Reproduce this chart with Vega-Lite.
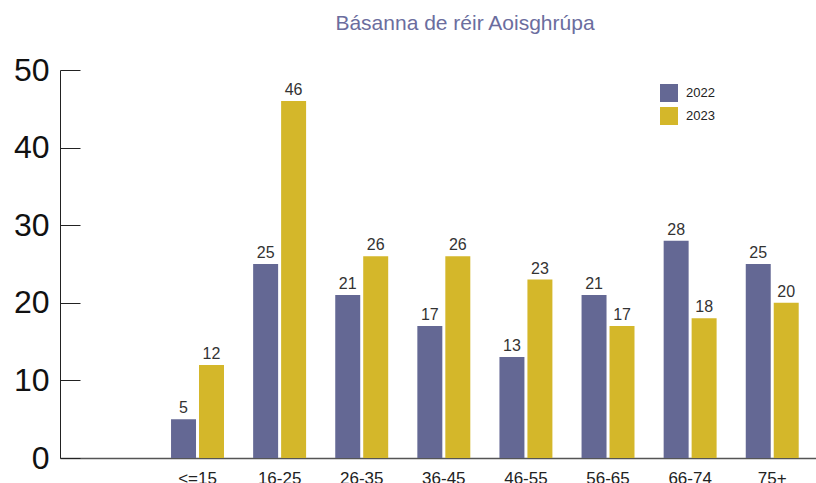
{
  "$schema": "https://vega.github.io/schema/vega-lite/v6.json",
  "autosize": {"type": "none"},
  "padding": {"left": 60, "top": 70, "right": 0, "bottom": 25},
  "width": 756,
  "height": 388,
  "background": "white",
  "title": {
    "text": "Básanna de réir Aoisghrúpa",
    "font": "Liberation Sans",
    "fontSize": 21,
    "fontWeight": "normal",
    "color": "#6b6d9e",
    "anchor": "middle",
    "dx": 27,
    "offset": 20
  },
  "config": {
    "view": {"stroke": null},
    "font": "Liberation Sans"
  },
  "data": {
    "values": [
      {"age": "<=15", "year": "2022", "value": 5},
      {"age": "<=15", "year": "2023", "value": 12},
      {"age": "16-25", "year": "2022", "value": 25},
      {"age": "16-25", "year": "2023", "value": 46},
      {"age": "26-35", "year": "2022", "value": 21},
      {"age": "26-35", "year": "2023", "value": 26},
      {"age": "36-45", "year": "2022", "value": 17},
      {"age": "36-45", "year": "2023", "value": 26},
      {"age": "46-55", "year": "2022", "value": 13},
      {"age": "46-55", "year": "2023", "value": 23},
      {"age": "56-65", "year": "2022", "value": 21},
      {"age": "56-65", "year": "2023", "value": 17},
      {"age": "66-74", "year": "2022", "value": 28},
      {"age": "66-74", "year": "2023", "value": 18},
      {"age": "75+", "year": "2022", "value": 25},
      {"age": "75+", "year": "2023", "value": 20}
    ]
  },
  "encoding": {
    "x": {
      "field": "age",
      "type": "nominal",
      "sort": null,
      "scale": {
        "domain": [" ", "<=15", "16-25", "26-35", "36-45", "46-55", "56-65", "66-74", "75+"],
        "paddingInner": 0.355,
        "paddingOuter": 0.2815,
        "align": 0.626
      },
      "axis": {
        "title": null,
        "labelAngle": 0,
        "labelFontSize": 17,
        "labelColor": "#222222",
        "labelPadding": 12,
        "ticks": false,
        "domainColor": "#555555",
        "domainWidth": 1.5
      }
    },
    "xOffset": {
      "field": "year",
      "type": "nominal",
      "scale": {"paddingInner": 0.107, "paddingOuter": 0}
    },
    "y": {
      "field": "value",
      "type": "quantitative",
      "scale": {"domain": [0, 50], "nice": false},
      "axis": {
        "title": null,
        "values": [0, 10, 20, 30, 40, 50],
        "grid": false,
        "labelFontSize": 32,
        "labelColor": "#111111",
        "labelPadding": 31,
        "tickSize": -20,
        "tickColor": "#222222",
        "domainColor": "#222222",
        "domainWidth": 1
      }
    }
  },
  "layer": [
    {
      "mark": {"type": "bar"},
      "encoding": {
        "color": {
          "field": "year",
          "type": "nominal",
          "scale": {"domain": ["2022", "2023"], "range": ["#646894", "#d4b72a"]},
          "legend": {
            "title": null,
            "orient": "none",
            "legendX": 600,
            "legendY": 14,
            "padding": 0,
            "symbolType": "square",
            "symbolSize": 324,
            "symbolStrokeWidth": 0,
            "symbolOpacity": 1,
            "labelFontSize": 13,
            "labelColor": "#222222",
            "labelOffset": 8,
            "rowPadding": 5
          }
        }
      }
    },
    {
      "mark": {"type": "text", "baseline": "bottom", "dy": -3, "fontSize": 16, "color": "#333333"},
      "encoding": {
        "text": {"field": "value", "type": "quantitative"}
      }
    }
  ]
}
